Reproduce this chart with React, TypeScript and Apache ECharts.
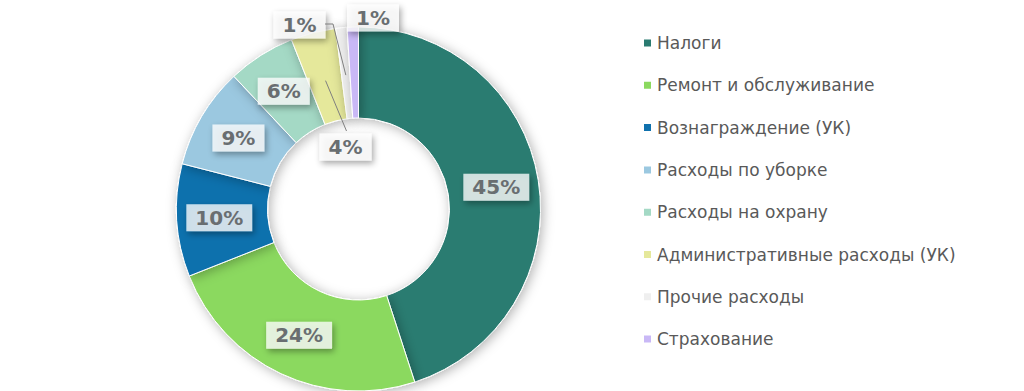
import { useEffect, useRef } from "react";
import * as echarts from "echarts";

// Cost structure, percent of total
const categories = [
  "Налоги",
  "Ремонт и обслуживание",
  "Вознаграждение (УК)",
  "Расходы по уборке",
  "Расходы на охрану",
  "Административные расходы (УК)",
  "Прочие расходы",
  "Страхование",
];
const shares = [45, 24, 10, 9, 6, 4, 1, 1];
const colors = [
  "#2a7b71",
  "#8bd95f",
  "#0f71ad",
  "#9bc8e0",
  "#a4d9c5",
  "#e5e89b",
  "#efefef",
  "#c9b8f6",
];

// Ring geometry (pixels)
const CX = 358.5;
const CY = 209;
const R_IN = 91;
const R_OUT = 182;
const R_MID = (R_IN + R_OUT) / 2;

const total = shares.reduce((a, b) => a + b, 0);

// Mid angle of slice i, clockwise from 12 o'clock, radians
function midAngle(i: number): number {
  let before = 0;
  for (let k = 0; k < i; k++) before += shares[k];
  return ((before + shares[i] / 2) / total) * Math.PI * 2;
}

function polar(angle: number, r: number): number[] {
  return [CX + r * Math.sin(angle), CY - r * Math.cos(angle)];
}

// Label anchors for the thin slices near the top, relative to the ring centre
const ADMIN_LABEL = [CX - 13, CY - 62];
const OTHER_LABEL = [CX - 59, CY - 184];
const INSUR_LABEL = [CX + 14.5, CY - 191];

function layoutLabel(params: any) {
  const i = params.dataIndex;
  const pos = i === 5 ? ADMIN_LABEL : i === 6 ? OTHER_LABEL : i === 7 ? INSUR_LABEL : null;
  if (!pos) return {};
  return { x: pos[0], y: pos[1], align: "center", verticalAlign: "middle" };
}

// Leader lines from the thin slices to their labels
const leaderLines = [
  [polar(midAngle(5), R_MID - 4), [ADMIN_LABEL[0] + 1, ADMIN_LABEL[1] - 16]],
  [polar(midAngle(6), R_MID - 2), [CX - 25.5, CY - 185], [CX - 33.5, CY - 185]],
];

export default function App() {
  const ref = useRef<HTMLDivElement>(null);

  useEffect(() => {
    document.body.style.margin = "0";
    if (!ref.current) return;
    const chart = echarts.init(ref.current, undefined, { renderer: "svg" });

    const data = categories.map((name, i) => ({
      name,
      value: shares[i],
      itemStyle: { color: colors[i] },
      label: { position: i >= 5 ? "outside" : "inside" },
    }));

    chart.setOption({
      animation: false,
      backgroundColor: "#ffffff",
      legend: {
        orient: "vertical",
        left: 637,
        top: 28,
        itemWidth: 9,
        itemHeight: 9,
        itemGap: 22.3,
        icon: "rect",
        selectedMode: false,
        textStyle: {
          fontFamily: "DejaVu Sans",
          fontSize: 17,
          lineHeight: 20,
          color: "#595959",
        },
        data: categories,
      },
      graphic: leaderLines.map((points) => ({
        type: "polyline",
        z: 50,
        silent: true,
        shape: { points },
        style: { stroke: "#7f7f7f", lineWidth: 1, fill: null },
      })),
      series: [
        {
          type: "pie",
          z: 2,
          center: [CX, CY],
          radius: [R_IN, R_OUT],
          startAngle: 90,
          clockwise: true,
          avoidLabelOverlap: false,
          silent: true,
          itemStyle: {
            borderColor: "#ffffff",
            borderWidth: 1,
            shadowBlur: 12,
            shadowColor: "rgba(0,0,0,0.3)",
            shadowOffsetX: 2,
            shadowOffsetY: 2,
          },
          label: {
            show: true,
            formatter: (p: any) => `${Math.round(p.percent)}%`,
            fontFamily: "DejaVu Sans",
            fontWeight: "bold",
            fontSize: 20,
            color: "#696e71",
            backgroundColor: "rgba(255,255,255,0.76)",
            padding: [4, 9, 3, 9],
            shadowColor: "rgba(0,0,0,0.45)",
            shadowBlur: 6,
            shadowOffsetX: 2,
            shadowOffsetY: 3,
          },
          labelLine: { show: false },
          labelLayout: layoutLabel,
          data,
        },
      ],
    });

    return () => chart.dispose();
  }, []);

  return <div ref={ref} style={{ width: 1024, height: 391 }} />;
}
